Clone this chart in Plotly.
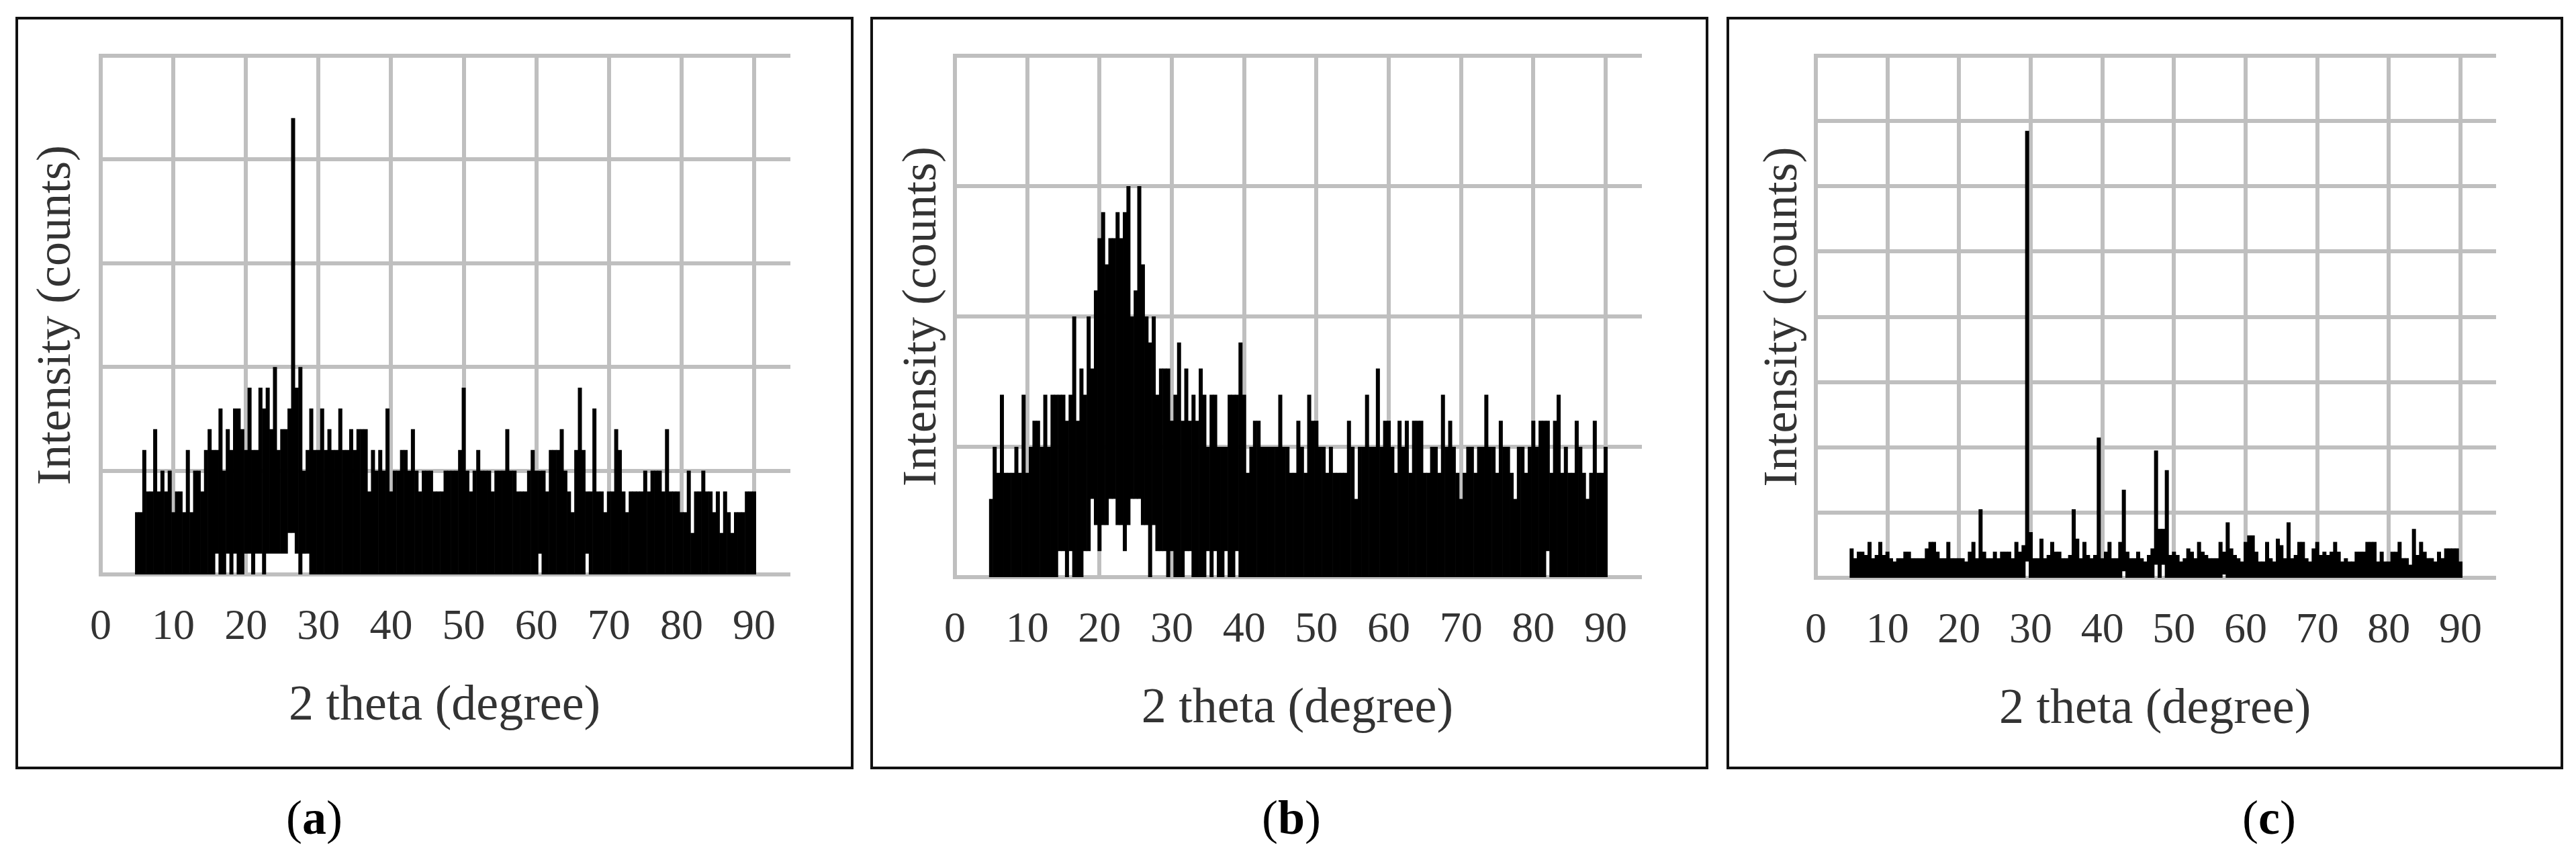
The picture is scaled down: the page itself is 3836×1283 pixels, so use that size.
import plotly.graph_objects as go

# 2 theta columns: 5.0 ... 90.0 in 0.5 degree steps (one row = 5 degrees)
two_theta = [5 + 0.5 * i for i in range(171)]

top_a = [
    3,3,6,4,4,7,4,5,4,5,
    3,4,4,3,6,3,5,5,4,6,
    7,6,6,8,5,7,6,8,8,7,
    6,9,6,6,9,8,9,7,10,6,
    7,7,8,22,9,10,5,6,8,6,
    6,8,6,7,6,6,8,6,6,7,
    6,7,7,7,4,6,5,6,5,8,
    4,5,5,6,6,5,7,5,4,5,
    5,5,4,4,4,5,5,5,5,6,
    9,5,4,5,6,5,5,5,4,5,
    5,5,7,5,5,4,4,4,5,6,
    5,5,5,4,6,6,6,7,5,4,
    3,6,9,6,4,4,8,4,4,3,
    4,4,7,6,4,3,4,4,4,4,
    5,4,5,5,5,4,7,4,4,4,
    3,3,5,2,4,4,5,4,4,3,
    4,2,4,3,2,3,3,3,4,4,
    4]
low_a = [
    0,0,0,0,0,0,0,0,0,0,
    0,0,0,0,0,0,0,0,0,0,
    0,0,1,0,0,1,0,1,0,0,
    1,1,0,1,1,0,1,1,1,1,
    1,1,2,2,1,0,1,1,0,0,
    0,0,0,0,0,0,0,0,0,0,
    0,0,0,0,0,0,0,0,0,0,
    0,0,0,0,0,0,0,0,0,0,
    0,0,0,0,0,0,0,0,0,0,
    0,0,0,0,0,0,0,0,0,0,
    0,0,0,0,0,0,0,0,0,0,
    0,1,0,0,0,0,0,0,0,0,
    0,0,0,0,1,0,0,0,0,0,
    0,0,0,0,0,0,0,0,0,0,
    0,0,0,0,0,0,0,0,0,0,
    0,0,0,0,0,0,0,0,0,0,
    0,0,0,0,0,0,0,0,0,0,
    0]

top_b = [
    3,5,4,7,4,4,4,5,4,7,
    4,5,6,6,5,7,5,7,7,7,
    7,6,7,10,6,8,7,10,8,11,
    13,14,12,13,13,14,13,14,15,10,
    11,15,12,10,9,10,7,8,8,8,
    6,7,9,6,8,6,7,6,8,7,
    5,7,7,5,5,5,7,7,7,9,
    7,4,5,6,6,5,5,5,5,5,
    7,5,5,4,4,6,5,4,7,6,
    6,5,5,4,5,4,4,4,4,6,
    5,3,5,5,7,5,5,8,5,6,
    6,5,4,6,5,6,4,6,6,6,
    4,4,5,5,4,7,5,6,5,4,
    3,4,5,5,4,5,5,7,5,5,
    4,6,5,5,4,3,5,5,4,5,
    6,5,6,6,6,4,6,7,4,5,
    4,4,6,5,4,3,4,6,4,4,
    5]
low_b = [
    0,0,0,0,0,0,0,0,0,0,
    0,0,0,0,0,0,0,0,0,1,
    1,0,1,0,0,0,1,1,3,2,
    1,2,2,3,3,2,2,1,2,3,
    3,3,2,2,0,2,1,1,1,0,
    1,0,0,0,1,1,0,0,0,0,
    1,0,1,0,0,1,0,0,1,0,
    0,0,0,0,0,0,0,0,0,0,
    0,0,0,0,0,0,0,0,0,0,
    0,0,0,0,0,0,0,0,0,0,
    0,0,0,0,0,0,0,0,0,0,
    0,0,0,0,0,0,0,0,0,0,
    0,0,0,0,0,0,0,0,0,0,
    0,0,0,0,0,0,0,0,0,0,
    0,0,0,0,0,0,0,0,0,0,
    0,0,0,0,1,0,0,0,0,0,
    0,0,0,0,0,0,0,0,0,0,
    0]

top_c = [
    9,6,8,8,7,11,6,7,11,7,
    8,6,5,6,6,8,8,6,6,6,
    6,9,11,11,8,6,6,11,6,6,
    6,6,5,8,11,6,21,8,6,6,
    8,6,8,8,8,6,11,8,10,137,
    14,6,6,12,6,7,11,8,8,6,
    6,7,21,12,6,11,7,6,7,43,
    6,8,11,6,6,11,27,8,6,6,
    8,6,5,7,9,39,15,15,33,7,
    8,7,5,6,9,8,6,11,8,7,
    6,6,6,11,8,17,9,7,6,5,
    11,13,13,8,5,5,11,6,5,12,
    10,6,17,6,7,11,11,6,5,9,
    11,7,8,7,8,11,8,5,6,5,
    5,8,8,8,11,11,11,5,8,5,
    5,8,8,11,6,6,4,15,7,11,
    8,6,6,5,8,6,9,9,9,9,
    5]
low_c = [
    0,0,0,0,0,0,0,0,0,0,
    0,0,0,0,0,0,0,0,0,0,
    0,0,0,0,0,0,0,0,0,0,
    0,0,0,0,0,0,0,0,0,0,
    0,0,0,0,0,0,0,0,0,5,
    0,0,0,0,0,0,0,0,0,0,
    0,0,0,0,0,0,0,0,0,0,
    0,0,0,0,0,0,2,0,0,0,
    0,0,0,0,0,4,0,4,0,0,
    0,0,0,0,0,0,0,0,0,0,
    0,0,0,0,1,0,0,0,0,0,
    0,0,0,0,0,0,0,0,0,0,
    0,0,0,0,0,0,0,0,0,0,
    0,0,0,0,0,0,0,0,0,0,
    0,0,0,0,0,0,0,0,0,0,
    0,0,0,0,0,0,0,0,0,0,
    0,0,0,0,0,0,0,0,0,0,
    0]

x_ticks = [0, 10, 20, 30, 40, 50, 60, 70, 80, 90]
x_title = "2 theta (degree)"
y_title = "Intensity (counts)"
panel_labels = ["(<b>a</b>)", "(<b>b</b>)", "(<b>c</b>)"]

W, H = 3836, 1283
GRID = "#bfbfbf"
TEXT = "#333333"
SERIF = "Liberation Serif"

panels = [
    dict(top=top_a, low=low_a, ymax=25, dy=5,  x0=150,  x90=1123, base=855, ytop=83,
         box=(25, 1269), label_x=468, y_stand=17),
    dict(top=top_b, low=low_b, ymax=20, dy=5,  x0=1422, x90=2391, base=859, ytop=83,
         box=(1298, 2542), label_x=1923, y_stand=0),
    dict(top=top_c, low=low_c, ymax=160, dy=20, x0=2704, x90=3664, base=860, ytop=83,
         box=(2573, 3815), label_x=3379, y_stand=0),
]

fig = go.Figure()
shapes, annotations = [], []

for i, p in enumerate(panels, start=1):
    xs, ys = [], []
    for t, hi, lo in zip(two_theta, p["top"], p["low"]):
        xs += [t, t, None]
        ys += [lo, hi, None]
    fig.add_trace(go.Scatter(x=xs, y=ys, mode="lines", cliponaxis=False,
                             line=dict(color="#000000", width=6),
                             xaxis=f"x{i}", yaxis=f"y{i}", showlegend=False,
                             hoverinfo="skip"))

    # pad the ranges a little so that the end gridlines are kept
    ppd = (p["x90"] - p["x0"]) / 90
    ppu = (p["base"] - p["ytop"]) / p["ymax"]
    xpad = 3 / ppd
    ypad = 3 / ppu
    left = p["x0"] - xpad * ppd
    right = p["x0"] + 95 * ppd
    bottom = p["base"] + 3
    top = p["ytop"] - 3

    fig.layout[f"xaxis{i}"] = dict(
        domain=[left / W, right / W], range=[-xpad, 95], anchor=f"y{i}",
        tickmode="array", tickvals=x_ticks, ticktext=[str(v) for v in x_ticks],
        ticks="outside", ticklen=15, tickwidth=0, tickcolor="rgba(0,0,0,0)",
        showgrid=True, gridcolor=GRID, gridwidth=6, zeroline=False, showline=False,
        tickfont=dict(family=SERIF, size=64, color=TEXT),
        title=dict(text=x_title, standoff=55, font=dict(family=SERIF, size=74, color=TEXT)),
        automargin=False)
    fig.layout[f"yaxis{i}"] = dict(
        domain=[1 - bottom / H, 1 - top / H], range=[-ypad, p["ymax"] + ypad], anchor=f"x{i}",
        tickmode="linear", tick0=0, dtick=p["dy"], showticklabels=False, ticks="",
        showgrid=True, gridcolor=GRID, gridwidth=6, zeroline=False, showline=False,
        title=dict(text=y_title, standoff=p["y_stand"], font=dict(family=SERIF, size=72, color=TEXT)),
        automargin=False)

    shapes.append(dict(type="rect", xref="paper", yref="paper",
                       x0=p["box"][0] / W, x1=p["box"][1] / W,
                       y0=1 - 1143 / H, y1=1 - 27 / H,
                       line=dict(color="#111111", width=4), fillcolor="rgba(0,0,0,0)"))
    annotations.append(dict(text=panel_labels[i - 1], xref="paper", yref="paper",
                            x=p["label_x"] / W, y=1 - 1217 / H, showarrow=False,
                            xanchor="center", yanchor="middle",
                            font=dict(family=SERIF, size=72, color="#000000")))

fig.update_layout(width=W, height=H, margin=dict(l=0, r=0, t=0, b=0),
                  plot_bgcolor="#ffffff", paper_bgcolor="#ffffff",
                  showlegend=False, shapes=shapes, annotations=annotations)

fig.write_html("out.html", config={"displayModeBar": False},
               post_script="document.body.style.margin='0';")
